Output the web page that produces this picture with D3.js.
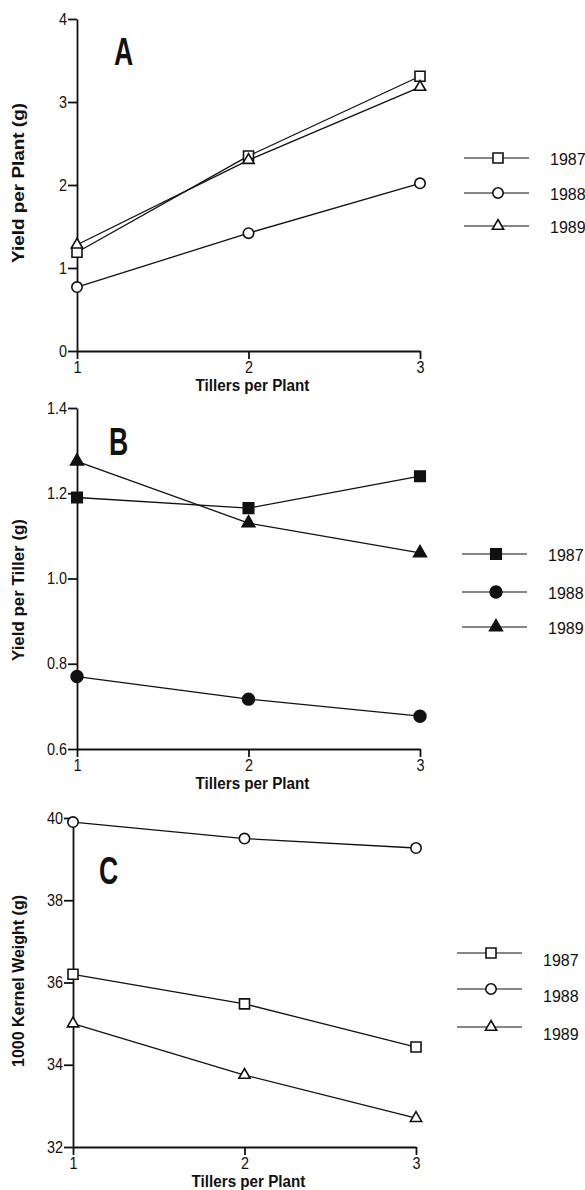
<!DOCTYPE html>
<html>
<head>
<meta charset="utf-8">
<script src="https://cdn.jsdelivr.net/npm/d3@7"></script>
<style>
  body { margin: 0; background: #fff; }
  svg { display: block; }
  text { font-family: "Liberation Sans", Arial, sans-serif; fill: #111; }
  .title { font-size: 16px; font-weight: bold; }
  .letter { font-size: 38px; font-weight: bold; }
  .legend text { font-size: 16px; }
</style>
</head>
<body>
<svg id="chart"></svg>
<script>
// tillers per plant (x values shared by all panels)
var tillers = [1, 2, 3];
var years = ["1987", "1988", "1989"];

// panel A: yield per plant (g)
var plantYield1987 = [1.19, 2.35, 3.31];
var plantYield1988 = [0.77, 1.42, 2.02];
var plantYield1989 = [1.28, 2.30, 3.18];
var plantTicks = [0, 1, 2, 3, 4];

// panel B: yield per tiller (g)
var tillerYield1987 = [1.19, 1.165, 1.24];
var tillerYield1988 = [0.77, 0.717, 0.677];
var tillerYield1989 = [1.275, 1.13, 1.06];
var tillerTicks = [0.6, 0.8, 1.0, 1.2, 1.4];

// panel C: 1000 kernel weight (g)
var kernel1987 = [36.2, 35.48, 34.43];
var kernel1988 = [39.9, 39.5, 39.27];
var kernel1989 = [35.0, 33.75, 32.7];
var kernelTicks = [32, 34, 36, 38, 40];

var screen = { width: 585, height: 1190 };
var svg = d3.select("#chart").attr("width", screen.width).attr("height", screen.height);

var shapes = [d3.symbolSquare, d3.symbolCircle, d3.symbolTriangle];
var openSizes = [100, 85, 55];
var filledSizes = [110, 110, 70];

// squeeze text horizontally to mimic the condensed typeface
var condense = function (sel, f) {
  sel.each(function () {
    var w = this.getComputedTextLength();
    d3.select(this).attr("textLength", w * f).attr("lengthAdjust", "spacingAndGlyphs");
  });
};

var styleAxis = function (a) {
  a.attr("font-family", "Liberation Sans, Arial, sans-serif").attr("font-size", 16);
  a.selectAll("path, line").attr("stroke", "#111").attr("stroke-width", 1.8);
  a.selectAll("text").attr("fill", "#111");
};

var drawPanel = function (p) {
  var g = svg.append("g");
  var sizes = p.filled ? filledSizes : openSizes;

  var xScale = d3.scaleLinear().domain([1, 3]).range([p.left, p.right]);
  var yScale = d3.scaleLinear().domain([p.ticks[0], p.ticks[p.ticks.length - 1]]).range([p.bottom, p.top]);

  var xAxis = g.append("g")
    .attr("transform", "translate(0," + p.bottom + ")")
    .call(d3.axisBottom(xScale).tickValues(tillers).tickFormat(d3.format("d")).tickSize(8).tickPadding(3).tickSizeOuter(0))
    .call(styleAxis);
  condense(xAxis.selectAll("text"), 0.9);

  var yAxis = g.append("g")
    .attr("transform", "translate(" + p.left + ",0)")
    .call(d3.axisLeft(yScale).tickValues(p.ticks).tickFormat(p.format).tickSize(9).tickPadding(1).tickSizeOuter(0))
    .call(styleAxis);
  condense(yAxis.selectAll("text"), 0.9);

  // labels
  var xt = g.append("text")
    .classed("title", true)
    .attr("text-anchor", "middle")
    .attr("x", (p.left + p.right) / 2 + 4)
    .attr("y", p.bottom + 40)
    .text("Tillers per Plant");
  condense(xt, 0.95);

  g.append("text")
    .classed("title", true)
    .attr("text-anchor", "middle")
    .attr("transform", "translate(24," + p.ytitleY + ") rotate(-90)")
    .attr("textLength", p.ytitleLen)
    .attr("lengthAdjust", "spacingAndGlyphs")
    .text(p.ytitle);

  var letter = g.append("text")
    .classed("letter", true)
    .attr("x", p.letterX)
    .attr("y", p.letterY)
    .text(p.letter);
  condense(letter, 0.7);

  var line = d3.line()
    .x(function (d, i) { return xScale(tillers[i]); })
    .y(function (d) { return yScale(d); });

  p.series.forEach(function (values, k) {
    g.append("path")
      .datum(values)
      .attr("d", line)
      .attr("fill", "none")
      .attr("stroke", "#111")
      .attr("stroke-width", 1.3);

    g.selectAll(null)
      .data(values)
      .enter()
      .append("path")
      .attr("transform", function (d, i) {
        return "translate(" + xScale(tillers[i]) + "," + yScale(d) + ")";
      })
      .attr("d", d3.symbol().type(shapes[k]).size(sizes[k]))
      .attr("fill", p.filled ? "#111" : "#fff")
      .attr("stroke", "#111")
      .attr("stroke-width", 1.6);
  });

  // legend
  var legend = g.append("g").classed("legend", true);
  years.forEach(function (year, k) {
    var ly = p.legendY[k];
    legend.append("line")
      .attr("x1", p.legendX).attr("x2", p.legendX + 65)
      .attr("y1", ly).attr("y2", ly)
      .attr("stroke", "#111").attr("stroke-width", 1.2);
    legend.append("path")
      .attr("transform", "translate(" + (p.legendX + 34) + "," + ly + ")")
      .attr("d", d3.symbol().type(shapes[k]).size(sizes[k]))
      .attr("fill", p.filled ? "#111" : "#fff")
      .attr("stroke", "#111")
      .attr("stroke-width", 1.6);
    legend.append("text")
      .attr("x", p.legendX + p.legendTextDx)
      .attr("y", ly + p.legendDy)
      .attr("dy", "0.35em")
      .text(year);
  });
};

drawPanel({
  left: 77, right: 420, top: 19, bottom: 351,
  ticks: plantTicks, format: d3.format("d"),
  ytitle: "Yield per Plant (g)", ytitleY: 183, ytitleLen: 160,
  letter: "A", letterX: 114, letterY: 65,
  series: [plantYield1987, plantYield1988, plantYield1989], filled: false,
  legendX: 464, legendY: [158, 193, 226], legendDy: 1, legendTextDx: 86
});

drawPanel({
  left: 77, right: 420, top: 408, bottom: 749,
  ticks: tillerTicks, format: d3.format(".1f"),
  ytitle: "Yield per Tiller (g)", ytitleY: 590, ytitleLen: 142,
  letter: "B", letterX: 109, letterY: 455,
  series: [tillerYield1987, tillerYield1988, tillerYield1989], filled: true,
  legendX: 462, legendY: [554, 592, 627], legendDy: 1, legendTextDx: 86
});

drawPanel({
  left: 73, right: 416, top: 818, bottom: 1147,
  ticks: kernelTicks, format: d3.format("d"),
  ytitle: "1000 Kernel Weight (g)", ytitleY: 981, ytitleLen: 172,
  letter: "C", letterX: 99, letterY: 884,
  series: [kernel1987, kernel1988, kernel1989], filled: false,
  legendX: 457, legendY: [953, 989, 1027], legendDy: 7, legendTextDx: 86
});
</script>
</body>
</html>
